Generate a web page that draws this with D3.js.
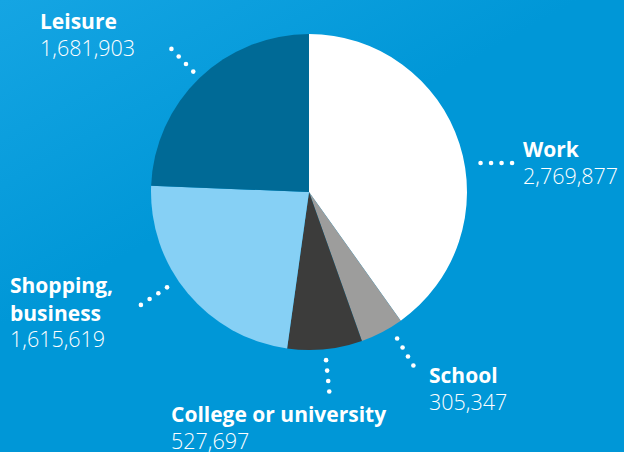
<!DOCTYPE html>
<html>
<head>
<meta charset="utf-8">
<script src="https://cdn.jsdelivr.net/npm/d3@7"></script>
<style>
  html, body { margin: 0; padding: 0; background: #0097d7; }
  svg { display: block; }
  .name { font-family: "Open Sans", sans-serif; font-weight: 700; fill: #fff; }
  .value { font-family: "Open Sans", sans-serif; font-weight: 300; fill: #fff; }
</style>
</head>
<body>
<div id="wrapper"></div>
<script>
// data
const categories = ["Work", "School", "College or university", "Shopping, business", "Leisure"]
const trips = [2769877, 305347, 527697, 1615619, 1681903]
const colors = ["#ffffff", "#9d9d9c", "#3c3c3b", "#86d0f5", "#006a96"]

// label layout: name lines, text anchor point, leader angle/offset
const labelLayout = {
  "Work": { lines: ["Work"], x: 523, y: 157, leaderAngle: 80.4, dir: 90, gap: 16 },
  "School": { lines: ["School"], x: 429, y: 383, shift: -3.5, gap: 13 },
  "College or university": { lines: ["College or university"], x: 171, y: 422, gap: 11 },
  "Shopping, business": { lines: ["Shopping,", "business"], x: 10, y: 293, shift: 6, gap: 13 },
  "Leisure": { lines: ["Leisure"], x: 40, y: 29, gap: 9 },
}

async function drawPie() {
  const dataset = categories.map((c, i) => ({ category: c, value: trips[i], color: colors[i] }))

  let dimensions = {
    width: 624,
    height: 452,
    cx: 309,
    cy: 192,
    radius: 158,
  }

  const wrapper = d3.select("#wrapper")
    .append("svg")
      .attr("width", dimensions.width)
      .attr("height", dimensions.height)

  // background with lighter top-left glow
  const defs = wrapper.append("defs")
  const grad = defs.append("linearGradient")
      .attr("id", "bg")
      .attr("x1", 0).attr("y1", 0).attr("x2", 0.35).attr("y2", 0.45)
  grad.append("stop").attr("offset", "0%").attr("stop-color", "#15a5e3")
  grad.append("stop").attr("offset", "100%").attr("stop-color", "#0097d7")

  wrapper.append("rect")
      .attr("width", dimensions.width)
      .attr("height", dimensions.height)
      .attr("fill", "url(#bg)")

  const bounds = wrapper.append("g")
      .attr("transform", `translate(${dimensions.cx},${dimensions.cy})`)

  const pie = d3.pie()
    .sort(null)
    .value(d => d.value)

  const arcs = pie(dataset)

  const arc = d3.arc()
    .innerRadius(0)
    .outerRadius(dimensions.radius)

  bounds.selectAll("path.slice")
    .data(arcs)
    .join("path")
      .attr("class", "slice")
      .attr("d", arc)
      .attr("fill", d => d.data.color)

  // dotted leaders
  const toDeg = r => r * 180 / Math.PI
  const polar = (angDeg, r) => {
    const a = angDeg * Math.PI / 180
    return [Math.sin(a) * r, -Math.cos(a) * r]
  }

  arcs.forEach(d => {
    const lay = labelLayout[d.data.category]
    const mid = toDeg((d.startAngle + d.endAngle) / 2) + (lay.shift || 0)
    const startAng = lay.leaderAngle != null ? lay.leaderAngle : mid
    const dir = lay.dir != null ? lay.dir : startAng
    const start = polar(startAng, dimensions.radius + lay.gap)
    const step = polar(dir, 10.5)
    const dots = d3.range(4).map(i => [start[0] + step[0] * i, start[1] + step[1] * i])
    bounds.selectAll(null)
      .data(dots)
      .join("circle")
        .attr("cx", p => p[0])
        .attr("cy", p => p[1])
        .attr("r", 2.3)
        .attr("fill", "#fff")
  })

  // labels
  const fmt = d3.format(",")
  const labels = wrapper.append("g")
  arcs.forEach(d => {
    const lay = labelLayout[d.data.category]
    const t = labels.append("text")
        .attr("x", lay.x)
        .attr("y", lay.y)
    lay.lines.forEach((line, i) => {
      t.append("tspan")
          .attr("class", "name")
          .attr("x", lay.x)
          .attr("dy", i === 0 ? 0 : 27.5)
          .style("font-size", "21px")
          .text(line)
    })
    t.append("tspan")
        .attr("class", "value")
        .attr("x", lay.x)
        .attr("dy", 26.5)
        .style("font-size", "21.5px")
        .text(fmt(d.data.value))
  })
}

drawPie()
</script>
</body>
</html>
